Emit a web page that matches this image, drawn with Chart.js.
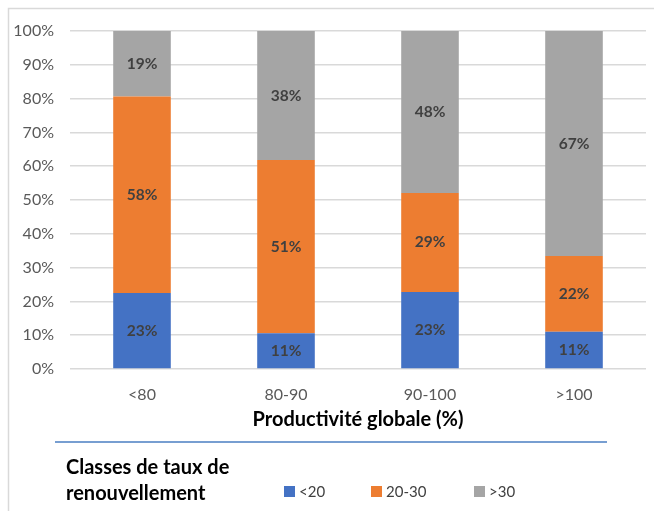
<!DOCTYPE html>
<html>
<head>
<meta charset="utf-8">
<script src="https://cdn.jsdelivr.net/npm/chart.js@4"></script>
<style>
  body { margin: 0; background: #fff; overflow: hidden; }
  #wrap { width: 654px; height: 511px; }
</style>
</head>
<body>
<div id="wrap"><canvas id="myChart" width="654" height="511"></canvas></div>
<script>
const categories = ["<80", "80-90", "90-100", ">100"];
const seriesNames = ["<20", "20-30", ">30"];
const lowShare = [22.5, 10.6, 22.8, 11.0];
const midShare = [58.1, 51.2, 29.3, 22.4];
const highShare = [19.4, 38.2, 47.9, 66.6];
const pctTicks = [0, 10, 20, 30, 40, 50, 60, 70, 80, 90, 100];
const colors = ["#4472C4", "#ED7D31", "#A5A5A5"];

const fontFam = "Lato, 'Open Sans', sans-serif";

// labels inside each segment
const segLabels = {
  id: "segLabels",
  afterDatasetsDraw(chart) {
    const ctx = chart.ctx;
    ctx.save();
    ctx.font = "bold 15.5px " + fontFam;
    ctx.fillStyle = "#404040";
    ctx.textAlign = "center";
    ctx.textBaseline = "middle";
    chart.data.datasets.forEach((ds, i) => {
      chart.getDatasetMeta(i).data.forEach((bar, j) => {
        const y = (bar.y + bar.base) / 2;
        ctx.fillText(Math.round(ds.data[j]) + "%", bar.x, y);
      });
    });
    ctx.restore();
  },
};

// frame, separator line and the legend block under the axis
const extras = {
  id: "extras",
  beforeDraw(chart) {
    const ctx = chart.ctx;
    ctx.save();
    ctx.strokeStyle = "#d9d9d9";
    ctx.lineWidth = 1.5;
    ctx.strokeRect(8.5, 8.5, 700, 600);
    ctx.restore();
  },
  afterDraw(chart) {
    const ctx = chart.ctx;
    ctx.save();
    ctx.strokeStyle = "#4A7EC2";
    ctx.lineWidth = 1.5;
    ctx.beginPath();
    ctx.moveTo(55, 442);
    ctx.lineTo(607, 442);
    ctx.stroke();

    ctx.fillStyle = "#000";
    ctx.font = "bold 20px " + fontFam;
    ctx.textBaseline = "middle";
    ctx.textAlign = "left";
    ctx.fillText("Classes de taux de", 66, 468);
    ctx.fillText("renouvellement", 66, 494);

    const items = [[284, 299], [371, 386], [474, 489]];
    ctx.font = "15px " + fontFam;
    seriesNames.forEach((name, i) => {
      ctx.fillStyle = colors[i];
      ctx.fillRect(items[i][0], 486, 11, 11);
      ctx.fillStyle = "#404040";
      ctx.fillText(name, items[i][1], 492);
    });
    ctx.restore();
  },
};

new Chart(document.getElementById("myChart"), {
  type: "bar",
  data: {
    labels: categories,
    datasets: [
      { label: seriesNames[0], data: lowShare, backgroundColor: colors[0] },
      { label: seriesNames[1], data: midShare, backgroundColor: colors[1] },
      { label: seriesNames[2], data: highShare, backgroundColor: colors[2] },
    ],
  },
  options: {
    responsive: false,
    animation: false,
    layout: { padding: { top: 31, right: 8, bottom: 72, left: 0 } },
    datasets: { bar: { barPercentage: 0.4, categoryPercentage: 1.0 } },
    plugins: {
      legend: { display: false },
      tooltip: { enabled: false },
    },
    scales: {
      x: {
        stacked: true,
        grid: { display: false, drawTicks: false },
        border: { display: false },
        ticks: { color: "#595959", font: { family: fontFam, size: 16 }, padding: 16 },
        title: {
          display: true,
          text: "Productivité globale (%)",
          color: "#000",
          font: { family: fontFam, size: 20, weight: "bold" },
          padding: { top: 0, bottom: 7 },
        },
        afterFit(scale) { scale.height = 70; },
      },
      y: {
        stacked: true,
        min: 0,
        max: 100,
        afterBuildTicks(scale) { scale.ticks = pctTicks.map(v => ({ value: v })); },
        grid: { color: "#d9d9d9", lineWidth: 1.5, drawTicks: false },
        border: { display: false },
        ticks: {
          color: "#595959",
          font: { family: fontFam, size: 16 },
          padding: 16,
          callback: v => v + "%",
        },
        afterFit(scale) { scale.width = 70; },
      },
    },
  },
  plugins: [segLabels, extras],
});
</script>
</body>
</html>
